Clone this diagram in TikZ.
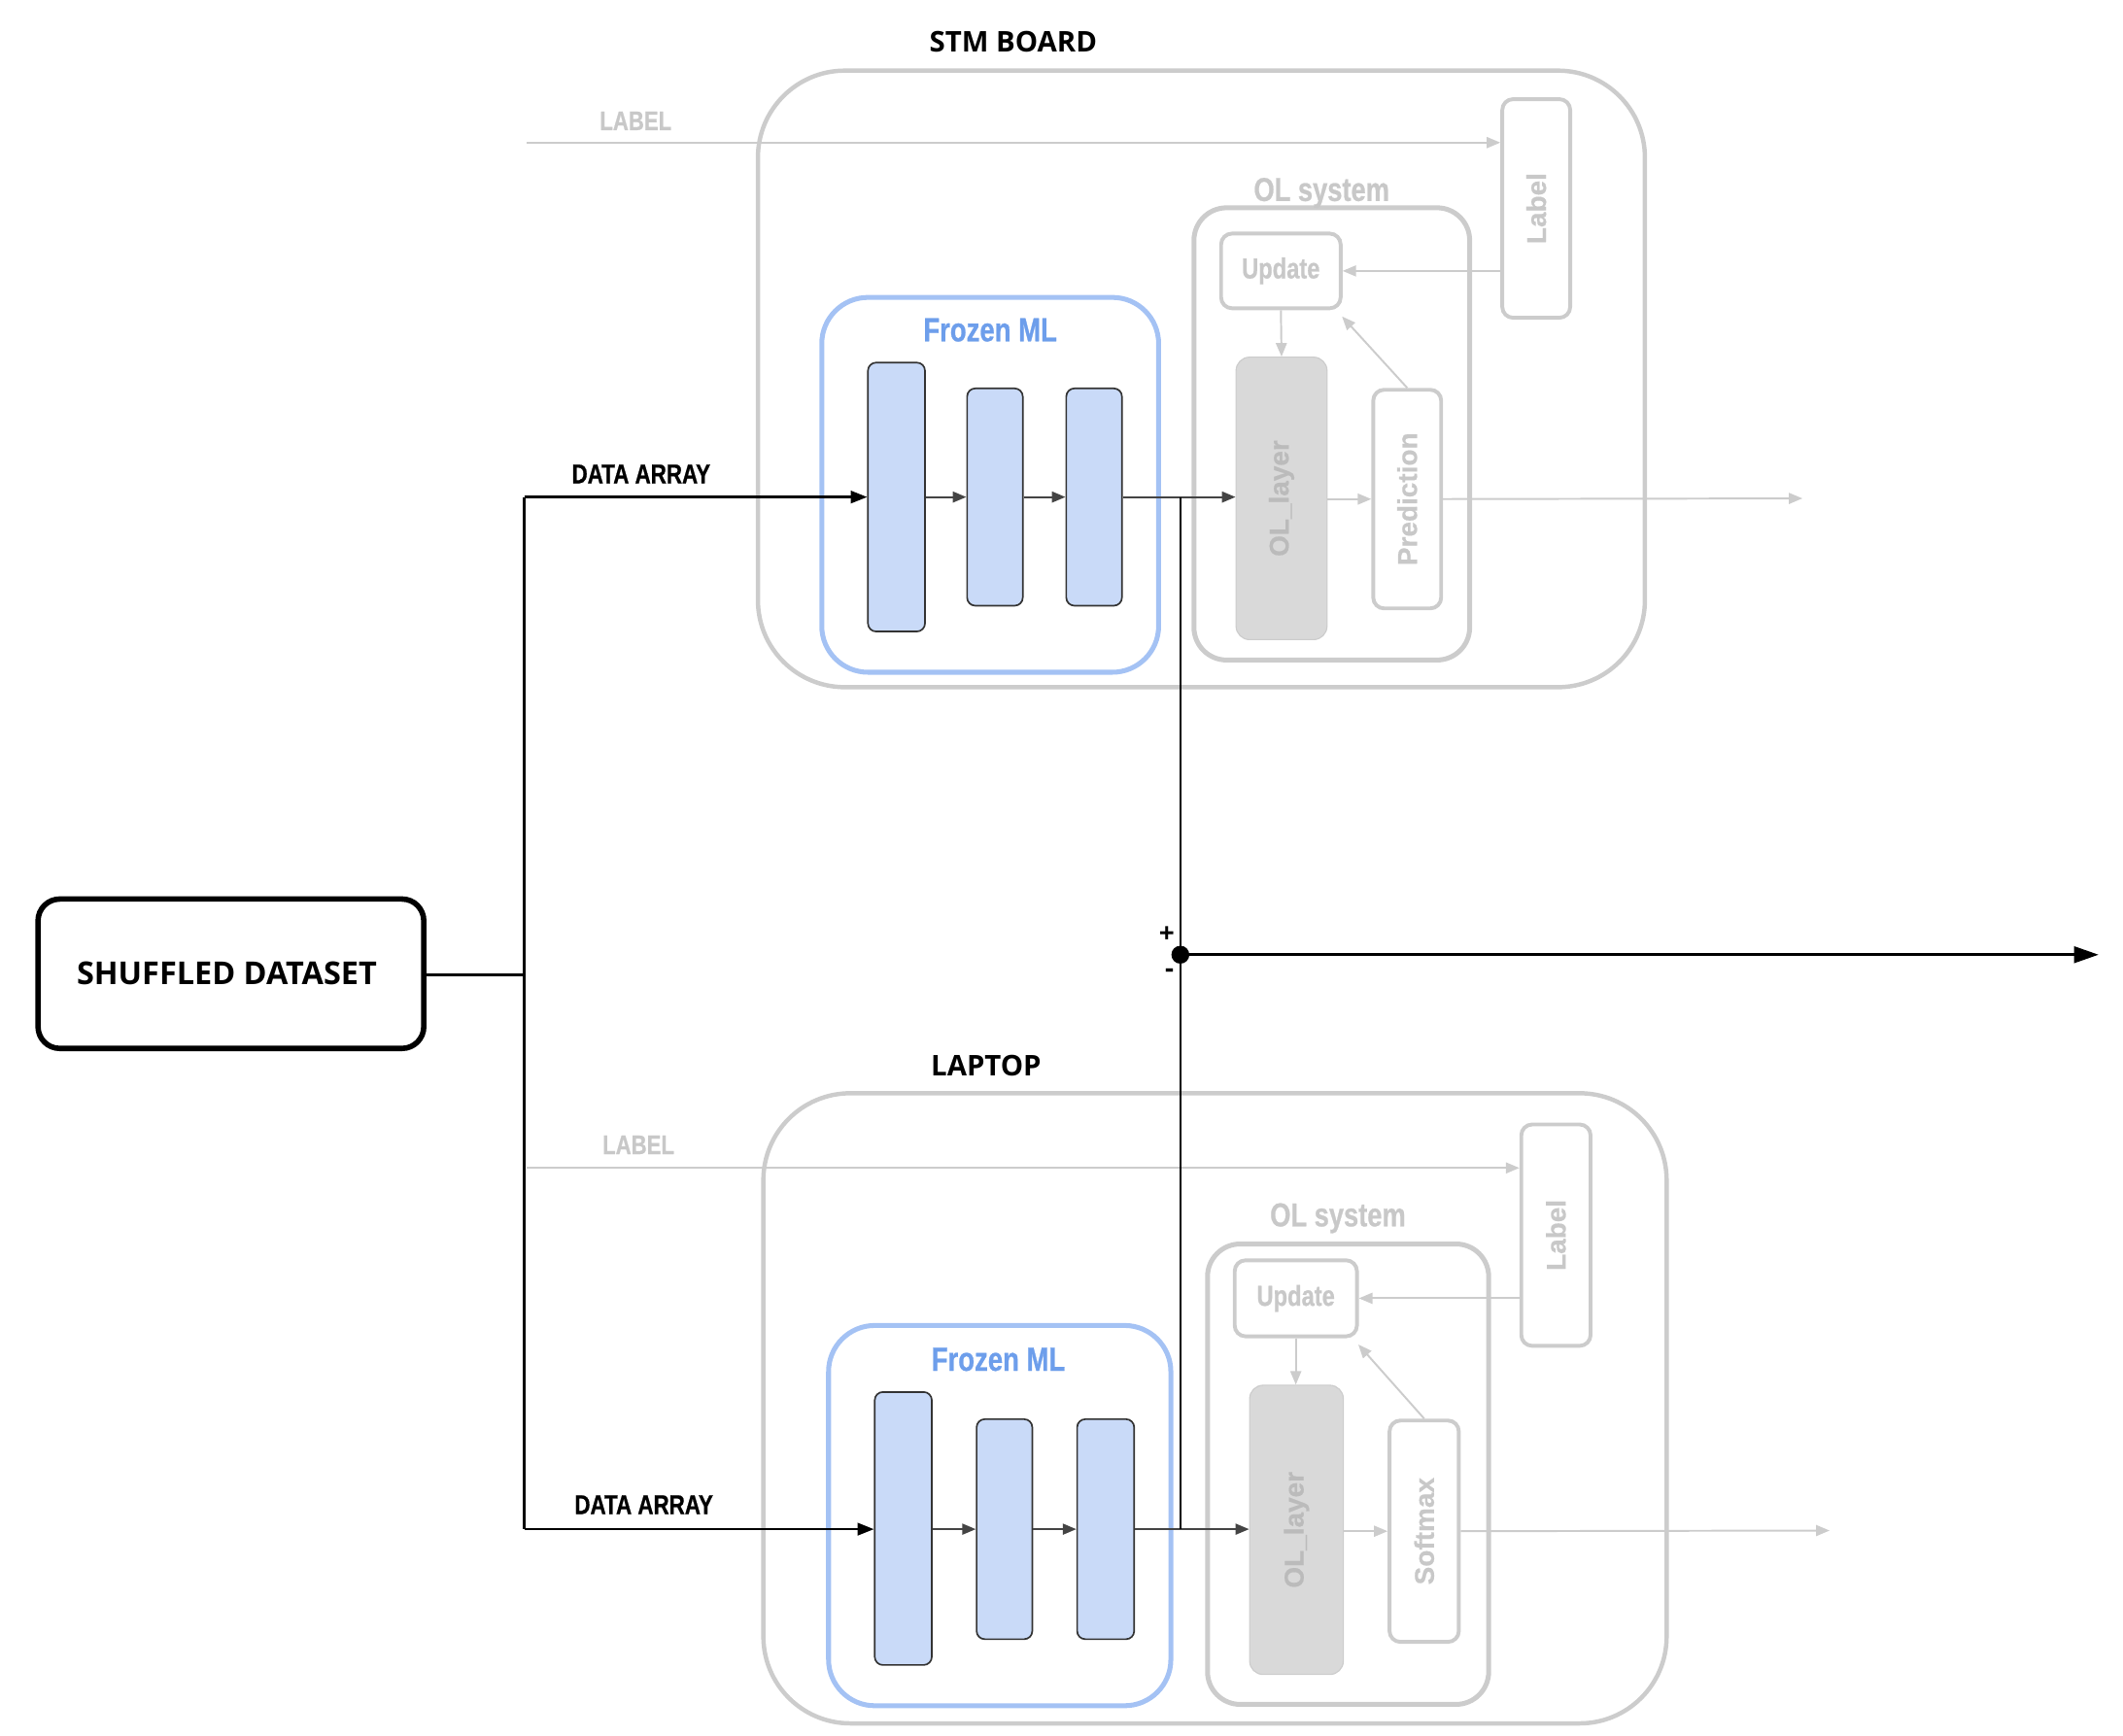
\documentclass[tikz,border=0pt]{standalone}
\usepackage{fontspec}
\setmainfont{Open Sans}
\newfontfamily\condf[FakeStretch=0.8, FakeBold=0.7]{Liberation Sans Bold}
\newfontfamily\robf[FakeBold=0.5]{Liberation Sans Bold}
\usetikzlibrary{arrows.meta,fit}
\definecolor{lg}{HTML}{CCCCCC}
\definecolor{lgtext}{HTML}{C8C8C8}
\definecolor{olfill}{HTML}{D9D9D9}
\definecolor{oltext}{HTML}{BBBBBB}
\definecolor{fblue}{HTML}{A4C2F4}
\definecolor{ftext}{HTML}{6D9EEB}
\definecolor{lblue}{HTML}{C9DAF8}
\definecolor{dk}{HTML}{333333}
\definecolor{dgray}{HTML}{444444}
\tikzset{
  outer/.style={draw=lg, line width=1.6pt, rounded corners=32pt, inner sep=0pt},
  olsys/.style={draw=lg, line width=1.8pt, rounded corners=12pt, inner sep=0pt},
  frozen/.style={draw=fblue, line width=1.8pt, rounded corners=17pt, inner sep=0pt},
  gbox/.style={draw=lg, line width=1.4pt, rounded corners=4pt, inner sep=0pt},
  olbox/.style={draw=lg, fill=olfill, line width=0.4pt, rounded corners=5pt, inner sep=0pt},
  layer/.style={draw=dk, fill=lblue, line width=0.6pt, rounded corners=3pt, inner sep=0pt},
  sdbox/.style={draw=black, line width=2pt, rounded corners=8pt, inner sep=0pt},
  garr/.style={draw=lg, line width=0.7pt, -{Triangle[length=5pt,width=4pt]}},
  darr/.style={draw=dgray, line width=0.7pt, -{Triangle[length=5pt,width=4pt]}},
  barr/.style={draw=black, line width=0.9pt, -{Triangle[length=6pt,width=4.5pt]}},
  bigarr/.style={draw=black, line width=1pt, -{Triangle[length=9pt,width=6pt]}},
  bline/.style={draw=black, line width=0.9pt},
  ttl/.style={font=\bfseries\fontsize{10.5}{12}\selectfont, inner sep=0pt},
  sdtxt/.style={font=\bfseries\fontsize{11.6}{13}\selectfont, inner sep=0pt},
  datxt/.style={font=\condf\fontsize{10}{12}\selectfont, inner sep=0pt},
  gltxt/.style={font=\condf\fontsize{9.9}{12}\selectfont, text=lgtext, inner sep=0pt},
  olsystxt/.style={font=\condf\fontsize{12.2}{14}\selectfont, text=lgtext, inner sep=0pt},
  updtxt/.style={font=\condf\fontsize{10.6}{12}\selectfont, text=lgtext, inner sep=0pt},
  frtxt/.style={font=\condf\fontsize{12.3}{14}\selectfont, text=ftext, inner sep=0pt},
  rottxt/.style={font=\robf\fontsize{10}{12}\selectfont, text=lgtext, rotate=90, inner sep=0pt},
  oltxt/.style={font=\robf\fontsize{10}{12}\selectfont, text=oltext, rotate=90, inner sep=0pt},
  pm/.style={font=\bfseries\fontsize{10}{12}\selectfont, inner sep=0pt},
}
\begin{document}
\begin{tikzpicture}[x=0.5pt, y=-0.5pt]
\useasboundingbox (0,0) rectangle (1563,1278);

% ---------------- STM BOARD ----------------
\node[ttl] (t1) at (746,31) {STM BOARD};
\node[outer, fit={(558,52)(1211,506)}] (stm) {};
\node[olsys, fit={(879,153)(1082,486)}] (ols1) {};
\node[olsystxt] (ols1t) at (973,142) {OL system};
\node[gbox, fit={(1106,73)(1156,234)}] (lab1) {};
\node[rottxt] (lab1t) at (lab1.center) {Label};
\node[gbox, fit={(899,172)(987,227)}] (upd1) {};
\node[updtxt] (upd1t) at (upd1.center) {Update};
\node[olbox, fit={(910,263)(977,471)}] (ol1) {};
\node[oltxt] (ol1t) at (ol1.center) {OL\_layer};
\node[gbox, fit={(1011,287)(1061,448)}] (pr1) {};
\node[rottxt] (pr1t) at (pr1.center) {Prediction};
\node[frozen, fit={(605,219)(853,495)}] (fz1) {};
\node[frtxt] (fz1t) at (729,243) {Frozen ML};
\node[layer, fit={(639,267)(681,465)}] (a1) {};
\node[layer, fit={(712,286)(753,446)}] (b1) {};
\node[layer, fit={(785,286)(826,446)}] (c1) {};

\node[gltxt] (lbl1) at (468,89) {LABEL};
\coordinate (ls1) at (388,105);
\draw[garr] (ls1) -- (ls1 -| lab1.west);
\draw[garr] (lab1.west |- upd1.east) -- (upd1.east);
\draw[garr] (upd1.south) -- (ol1.north);
\coordinate (pu1) at (988,233);
\draw[garr] (pr1.north) -- (pu1);
\draw[garr] (ol1.east |- pr1.west) -- (pr1.west);
\coordinate (po1) at (1327,367);
\draw[garr] (pr1.east) -- (po1);
\draw[darr] (a1.east) -- (b1.west);
\draw[darr] (b1.east) -- (c1.west);
\draw[darr] (c1.east) -- (c1.east -| ol1.west);

% ---------------- LAPTOP ----------------
\node[ttl] (t2) at (726,785) {LAPTOP};
\node[outer, fit={(562,805)(1227,1269)}] (lap) {};
\node[olsys, fit={(889,916)(1096,1255)}] (ols2) {};
\node[olsystxt] (ols2t) at (985,897) {OL system};
\node[gbox, fit={(1120,828)(1171,991)}] (lab2) {};
\node[rottxt] (lab2t) at (lab2.center) {Label};
\node[gbox, fit={(909,928)(999,984)}] (upd2) {};
\node[updtxt] (upd2t) at (upd2.center) {Update};
\node[olbox, fit={(920,1020)(989,1233)}] (ol2) {};
\node[oltxt] (ol2t) at (ol2.center) {OL\_layer};
\node[gbox, fit={(1023,1046)(1074,1209)}] (sm2) {};
\node[rottxt] (sm2t) at (sm2.center) {Softmax};
\node[frozen, fit={(610,976)(862,1256)}] (fz2) {};
\node[frtxt] (fz2t) at (735,1001) {Frozen ML};
\node[layer, fit={(644,1025)(686,1226)}] (a2) {};
\node[layer, fit={(719,1045)(760,1207)}] (b2) {};
\node[layer, fit={(793,1045)(835,1207)}] (c2) {};

\node[gltxt] (lbl2) at (470,843) {LABEL};
\coordinate (ls2) at (388,860);
\draw[garr] (ls2) -- (ls2 -| lab2.west);
\draw[garr] (lab2.west |- upd2.east) -- (upd2.east);
\draw[garr] (upd2.south) -- (upd2.south |- ol2.north);
\coordinate (pu2) at (1000,990);
\draw[garr] (sm2.north) -- (pu2);
\draw[garr] (ol2.east |- sm2.west) -- (sm2.west);
\coordinate (po2) at (1347,1127);
\draw[garr] (sm2.east) -- (po2);
\draw[darr] (a2.east |- c2.west) -- (b2.west);
\draw[darr] (b2.east) -- (c2.west);
\draw[darr] (c2.east) -- (c2.east -| ol2.west);

% ---------------- input ----------------
\node[sdbox, fit={(28,662)(312,772)}] (sd) {};
\node[sdtxt] (sdt) at (167,717) {SHUFFLED DATASET};
\coordinate (sp) at (386,718);
\coordinate (spt) at (386,366);
\coordinate (spb) at (386,1126);
\draw[bline] (sd.east |- sp) -- (sp);
\draw[bline] (spt) -- (spb);
\draw[barr] (spt) -- (a1.west);
\draw[barr] (spb) -- (spb -| a2.west);
\node[datxt] (da1) at (472,349) {DATA ARRAY};
\node[datxt] (da2) at (474,1108) {DATA ARRAY};

% ---------------- difference ----------------
\coordinate (jt) at (869,366);
\coordinate (jb) at (869,1126);
\coordinate (dot) at (869,703);
\coordinate (out) at (1545,703);
\draw[bline] (jt) -- (jb);
\fill[black] (dot) circle (3.3pt);
\draw[bigarr] (dot) -- (out);
\node[pm] (plus) at (859,688) {+};
\node[pm] (minus) at (861,717) {-};
\end{tikzpicture}
\end{document}
